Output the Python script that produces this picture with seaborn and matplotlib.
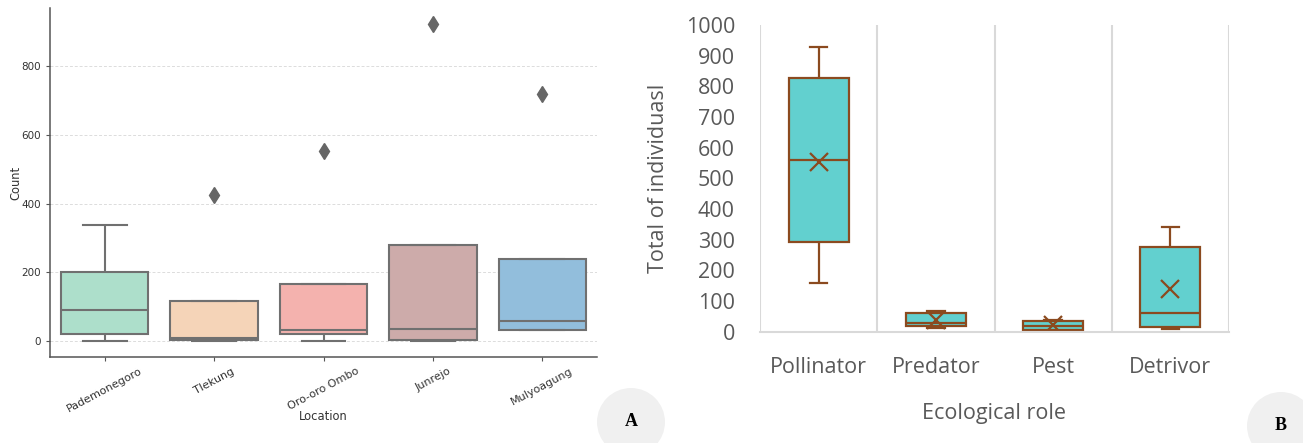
import pandas as pd
import seaborn as sns
import matplotlib.pyplot as plt
from matplotlib.patches import Ellipse

# panel A: counts per location
locations = ["Pademonegoro", "Tlekung", "Oro-oro Ombo", "Junrejo", "Mulyoagung"]
pademonegoro = [0, 20, 91, 200, 337]
tlekung = [0, 3, 9, 117, 425]
oro_oro_ombo = [0, 20, 32, 166, 553]
junrejo = [0, 3, 35, 280, 924]
mulyoagung = [33, 33, 58, 240, 720]
loc_colors = ["#addfcb", "#f5d4b8", "#f4b2ae", "#cdabaa", "#92bedc"]

# panel B: total individuals per ecological role
roles = ["Pollinator", "Predator", "Pest", "Detrivor"]
pollinator = [158, 293, 559, 826, 928]
predator = [11, 20, 27, 60, 68]
pest = [3, 5, 20, 36, 38]
detrivor = [9, 14, 60, 275, 340]

df_a = pd.DataFrame({
    "Location": [loc for loc, vals in zip(locations, [pademonegoro, tlekung, oro_oro_ombo, junrejo, mulyoagung]) for _ in vals],
    "Count": pademonegoro + tlekung + oro_oro_ombo + junrejo + mulyoagung,
})
df_b = pd.DataFrame({
    "role": [r for r, vals in zip(roles, [pollinator, predator, pest, detrivor]) for _ in vals],
    "total": pollinator + predator + pest + detrivor,
})

fig = plt.figure(figsize=(13.03, 4.43), dpi=100)
W, H = 1303, 443

# ---- panel A ----
ax1 = fig.add_axes([50 / W, 1 - 357 / H, 547 / W, 349 / H])
ax1.set_axisbelow(True)
ax1.yaxis.grid(True, linestyle=(0, (3, 2)), color="#dcdcdc", linewidth=0.7)
sns.boxplot(data=df_a, x="Location", y="Count", hue="Location", order=locations,
            palette=dict(zip(locations, loc_colors)), legend=False, saturation=1,
            width=0.8, linecolor="#707070", linewidth=1.5,
            flierprops=dict(marker="d", markerfacecolor="#666666", markeredgecolor="#666666",
                            markersize=8), ax=ax1)
ax1.set_yticks([0, 200, 400, 600, 800])
for s in ["top", "right"]:
    ax1.spines[s].set_visible(False)
for s in ["left", "bottom"]:
    ax1.spines[s].set_color("#555555")
    ax1.spines[s].set_linewidth(1.1)
ax1.tick_params(axis="both", length=3, color="#555555", labelsize=7.5, labelcolor="#333333")
plt.setp(ax1.get_xticklabels(), rotation=28, ha="center", fontsize=8)
ax1.set_xlabel("Location", fontsize=8.3, color="#333333", va="center")
ax1.set_ylabel("Count", fontsize=8.3, color="#333333", va="center")
ax1.xaxis.set_label_coords(0.5, -(416 - 357) / 349)
ax1.yaxis.set_label_coords(-(50 - 16) / 547, 0.5)

# ---- panel B ----
teal = "#62d0cf"
brown = "#8b4a1f"
ax2 = fig.add_axes([760 / W, 1 - 331.7 / H, 469 / W, 306.7 / H])
sns.boxplot(data=df_b, x="role", y="total", order=roles, color=teal, saturation=1,
            linecolor=brown, linewidth=1.6, width=0.51, showmeans=True,
            meanprops=dict(marker="x", markeredgecolor=brown, markersize=13, markeredgewidth=1.6),
            capwidths=0.15, ax=ax2)
ax2.set_ylim(0, 1000)
ax2.set_xlim(-0.5, 3.5)
ax2.set_yticks(range(0, 1001, 100))
ax2.set_xticks([-0.5, 0.5, 1.5, 2.5, 3.5], minor=True)
ax2.xaxis.grid(True, which="minor", color="#d9d9d9", linewidth=1.5)
ax2.set_axisbelow(True)
for s in ["top", "right", "left"]:
    ax2.spines[s].set_visible(False)
ax2.spines["bottom"].set_color("#d9d9d9")
ax2.spines["bottom"].set_linewidth(1.5)
ax2.tick_params(axis="both", which="both", length=0, labelsize=15.5, labelcolor="#595959")
ax2.tick_params(axis="x", pad=18)
ax2.tick_params(axis="y", pad=18)
for lbl in ax2.get_xticklabels() + ax2.get_yticklabels():
    lbl.set_family("Open Sans")
ax2.set_xlabel("Ecological role", fontsize=15.5, color="#595959", family="Open Sans", labelpad=18)
ax2.set_ylabel("Total of individuasl", fontsize=15.5, color="#595959", family="Open Sans", labelpad=12)

# panel letters
for cx, cy, letter in [(631, 422, "A"), (1281, 426, "B")]:
    fig.add_artist(Ellipse((cx / W, 1 - cy / H), 68 / W, 68 / H, transform=fig.transFigure,
                           facecolor="#f0f0f0", edgecolor="none", zorder=0))
    fig.text(cx / W, 1 - cy / H, letter, ha="center", va="center", fontsize=13,
             fontweight="bold", family="Liberation Serif")

fig.savefig("out.png", dpi=100)
